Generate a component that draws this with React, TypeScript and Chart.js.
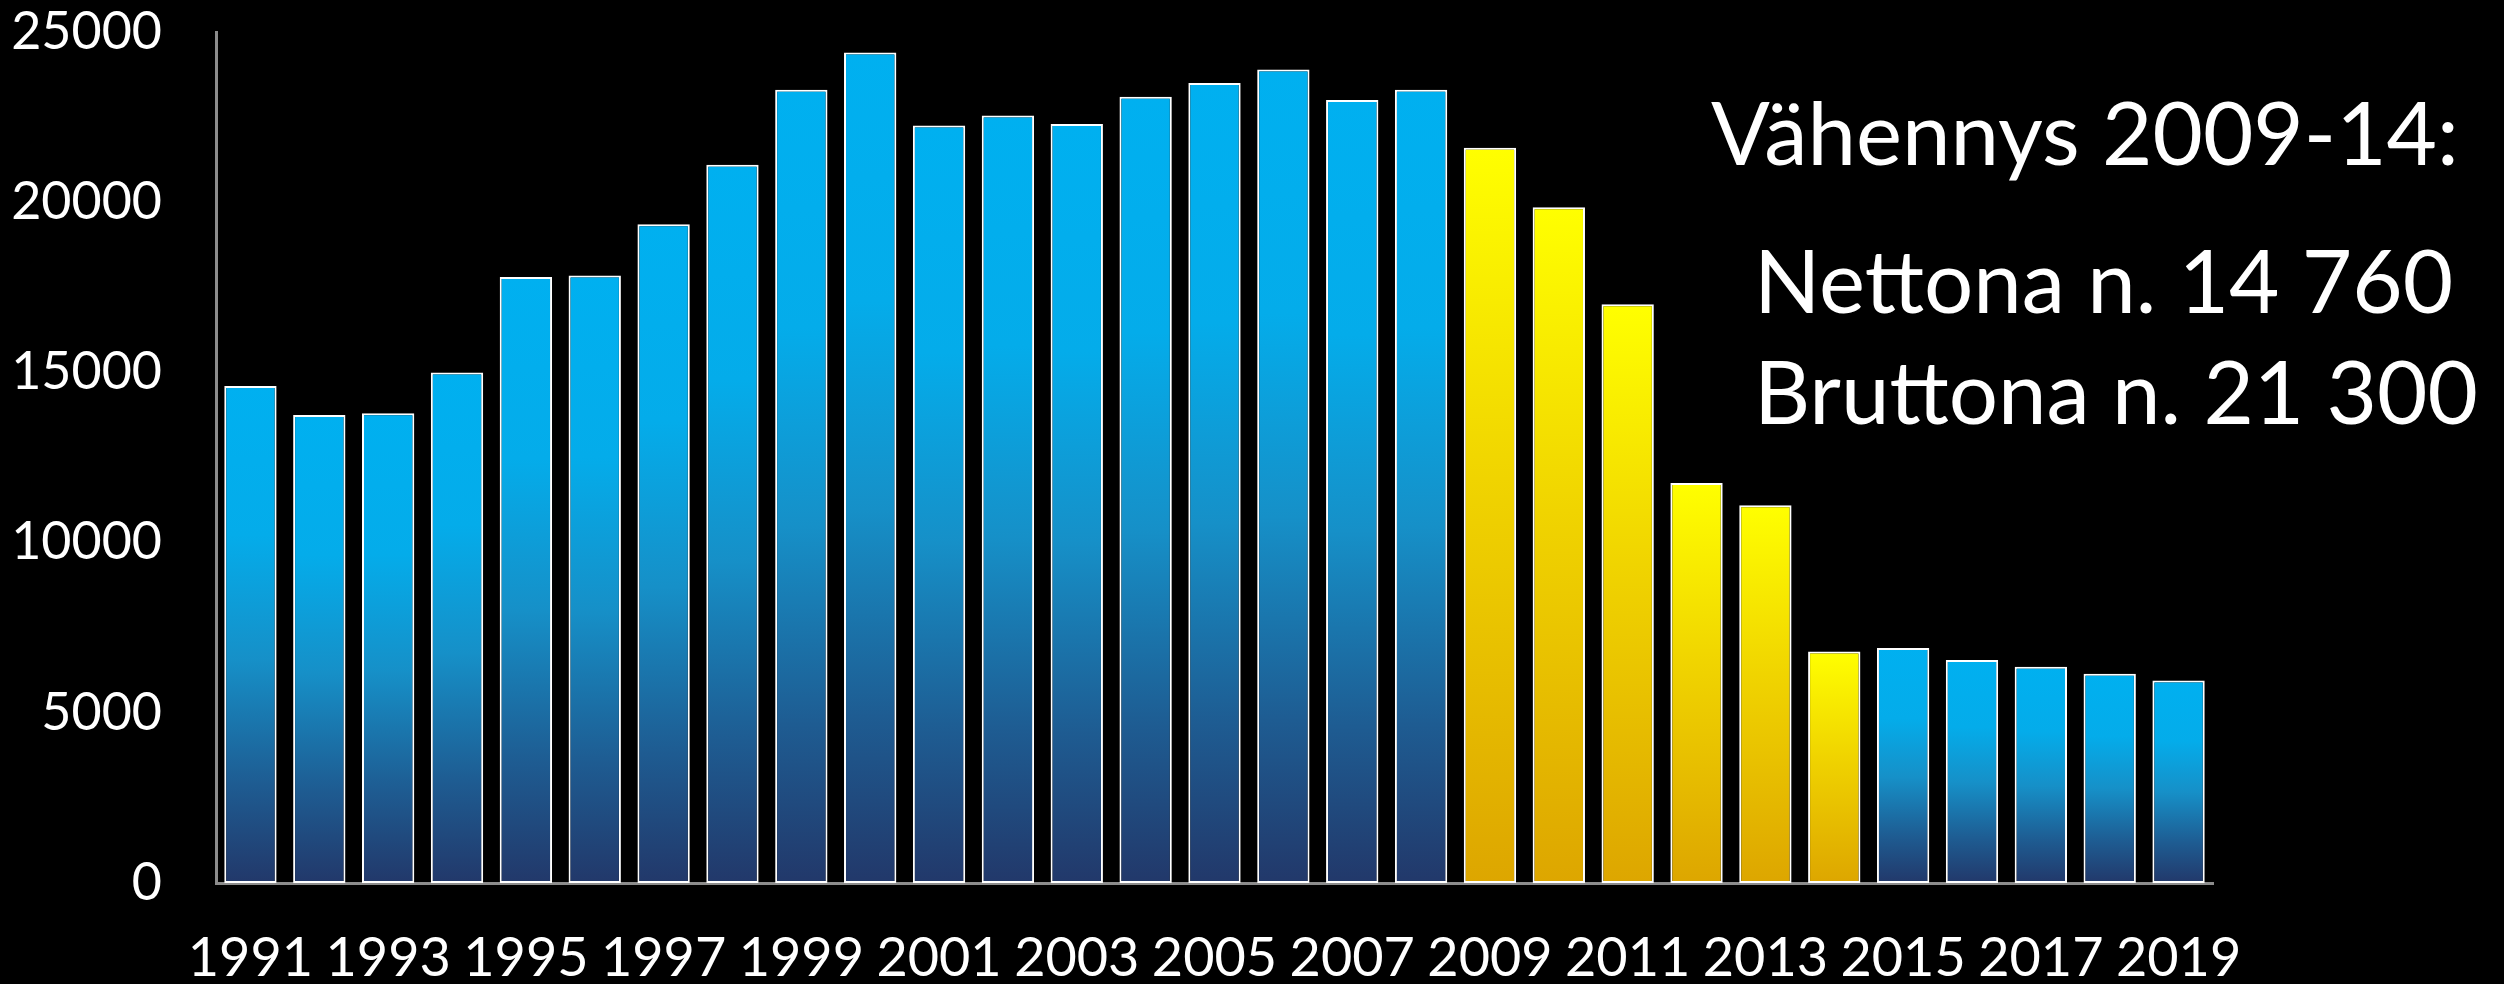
import React, { useEffect, useRef } from "react";
import { Chart, registerables } from "chart.js";

Chart.register(...registerables);

const years: string[] = [
  "1991", "1992", "1993", "1994", "1995", "1996", "1997", "1998", "1999", "2000",
  "2001", "2002", "2003", "2004", "2005", "2006", "2007", "2008", "2009", "2010",
  "2011", "2012", "2013", "2014", "2015", "2016", "2017", "2018", "2019",
];

const values: number[] = [
  14600, 13750, 13800, 15000, 17800, 17850, 19350, 21100, 23300, 24400,
  22250, 22550, 22300, 23100, 23500, 23900, 23000, 23300, 21600, 19850,
  17000, 11750, 11100, 6800, 6900, 6550, 6350, 6150, 5950,
];

const highlightYears: string[] = ["2009", "2010", "2011", "2012", "2013", "2014"];

const yTicks: number[] = [0, 5000, 10000, 15000, 20000, 25000];

const annotationLines: string[] = [
  "Vähennys 2009-14:",
  "Nettona n. 14 760",
  "Bruttona n. 21 300",
];

const FONT = "Lato, 'Open Sans', sans-serif";

export default function App() {
  const canvasRef = useRef<HTMLCanvasElement | null>(null);

  useEffect(() => {
    const canvas = canvasRef.current;
    if (!canvas) return;

    const makeFill = (ctx: any) => {
      const isHi = highlightYears.includes(years[ctx.dataIndex]);
      const solid = isHi ? "#F2D000" : "#0FA0DC";
      if (ctx.type !== "data") return solid;
      const chart = ctx.chart;
      const yScale = chart.scales && chart.scales.y;
      if (!yScale) return solid;
      const v = values[ctx.dataIndex];
      const top = yScale.getPixelForValue(v);
      const base = yScale.getPixelForValue(0);
      if (!isFinite(top) || !isFinite(base) || Math.abs(base - top) < 1) return solid;
      const g = chart.ctx.createLinearGradient(0, top, 0, base);
      if (isHi) {
        g.addColorStop(0, "#FFFF00");
        g.addColorStop(0.45, "#F0D400");
        g.addColorStop(1, "#DDA600");
      } else {
        g.addColorStop(0, "#00B0F0");
        g.addColorStop(0.3, "#04ACEA");
        g.addColorStop(0.55, "#1690C8");
        g.addColorStop(0.8, "#1E5C92");
        g.addColorStop(1, "#22386A");
      }
      return g;
    };

    const chart = new Chart(canvas, {
      type: "bar",
      data: {
        labels: years,
        datasets: [
          {
            data: values,
            backgroundColor: makeFill,
            borderColor: "#FFFFFF",
            borderWidth: 2,
            borderSkipped: false,
            barPercentage: 0.76,
            categoryPercentage: 1,
          },
        ],
      },
      options: {
        responsive: true,
        maintainAspectRatio: false,
        animation: false,
        layout: { padding: { top: 32, right: 291, left: 0, bottom: 0 } },
        plugins: {
          legend: { display: false },
          tooltip: { enabled: false },
          title: { display: false },
        },
        scales: {
          x: {
            grid: { display: false, drawTicks: false },
            border: { display: true, color: "#8C8C8C", width: 3 },
            ticks: {
              autoSkip: false,
              maxRotation: 0,
              minRotation: 0,
              color: "#FFFFFF",
              padding: 43,
              font: { family: FONT, size: 54 },
              callback: (_v: any, i: number) =>
                Number(years[i]) % 2 === 1 ? years[i] : "",
            },
            afterFit: (scale: any) => {
              scale.height = 101;
              scale.paddingLeft = 0;
              scale.paddingRight = 0;
            },
          },
          y: {
            min: 0,
            max: 25000,
            grid: { display: false, drawTicks: false },
            border: { display: true, color: "#8C8C8C", width: 3 },
            afterBuildTicks: (scale: any) => {
              scale.ticks = yTicks.map((v) => ({ value: v }));
            },
            ticks: {
              color: "#FFFFFF",
              padding: 54,
              font: { family: FONT, size: 52 },
              callback: (v: any) => String(v),
            },
            afterFit: (scale: any) => {
              scale.width = 216;
              scale.paddingTop = 0;
              scale.paddingBottom = 0;
            },
          },
        },
      },
    });

    return () => chart.destroy();
  }, []);

  const lineStyle = (left: number, top: number): React.CSSProperties => ({
    position: "absolute",
    left,
    top,
    color: "#FFFFFF",
    fontFamily: FONT,
    fontSize: 87,
    lineHeight: "100px",
    whiteSpace: "nowrap",
  });

  return (
    <div
      style={{
        position: "fixed",
        left: 0,
        top: 0,
        width: 2504,
        height: 984,
        background: "#000000",
        overflow: "hidden",
      }}
    >
      <canvas ref={canvasRef} />
      <div style={lineStyle(1711, 82)}>{annotationLines[0]}</div>
      <div style={lineStyle(1754, 230)}>{annotationLines[1]}</div>
      <div style={lineStyle(1754, 341)}>{annotationLines[2]}</div>
    </div>
  );
}
